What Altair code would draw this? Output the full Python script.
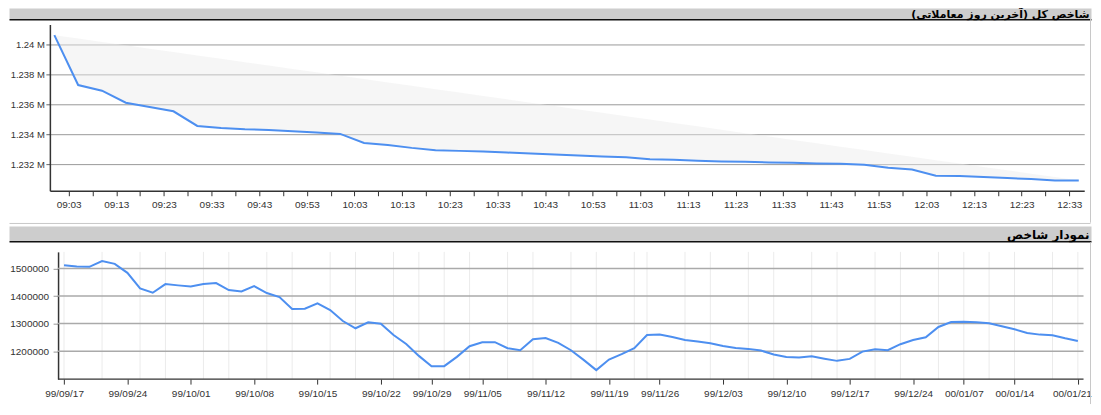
import altair as alt
import pandas as pd

# ---------------- data: intraday index (top panel) ----------------
intraday_times = [
    "09:00", "09:05", "09:10", "09:15", "09:20", "09:25", "09:30", "09:35", "09:40", "09:45",
    "09:50", "09:55", "10:00", "10:05", "10:10", "10:15", "10:20", "10:25", "10:30", "10:35",
    "10:40", "10:45", "10:50", "10:55", "11:00", "11:05", "11:10", "11:15", "11:20", "11:25",
    "11:30", "11:35", "11:40", "11:45", "11:50", "11:55", "12:00", "12:05", "12:10", "12:15",
    "12:20", "12:25", "12:30", "12:35",
]
intraday_values = [
    1240622, 1237287, 1236907, 1236107, 1235820, 1235533, 1234553, 1234420, 1234333, 1234287,
    1234200, 1234113, 1234022, 1233420, 1233287, 1233087, 1232933, 1232887, 1232842, 1232778,
    1232711, 1232644, 1232578, 1232511, 1232467, 1232333, 1232287, 1232222, 1232178, 1232156,
    1232111, 1232089, 1232044, 1232022, 1231956, 1231756, 1231644, 1231222, 1231200, 1231133,
    1231067, 1231000, 1230911, 1230911,
]
top_tick_labels = [
    "09:03", "09:13", "09:23", "09:33", "09:43", "09:53", "10:03", "10:13", "10:23", "10:33",
    "10:43", "10:53", "11:03", "11:13", "11:23", "11:33", "11:43", "11:53", "12:03", "12:13",
    "12:23", "12:33",
]
top_y_ticks = [1232000, 1234000, 1236000, 1238000, 1240000]

# ---------------- data: daily index (bottom panel) ----------------
index_values = [
    1511900, 1507200, 1505800, 1526400, 1516700, 1484100, 1427700, 1411800, 1443300, 1438600,
    1434900, 1443300, 1446900, 1421600, 1416800, 1436000, 1410700, 1396300, 1353000, 1354000,
    1373500, 1349300, 1309500, 1283100, 1304800, 1299800, 1258900, 1226400, 1183000, 1145800,
    1145800, 1179400, 1218100, 1232600, 1232600, 1210900, 1203600, 1243400, 1247900, 1230500,
    1203600, 1168600, 1131400, 1169700, 1189200, 1210900, 1258900, 1260100, 1251800, 1240800,
    1235000, 1228900, 1219200, 1212000, 1208400, 1202200, 1187800, 1179400, 1177000, 1181900,
    1173000, 1165000, 1172200, 1198600, 1207300, 1203600, 1225300, 1240800, 1250500, 1287900,
    1305900, 1307000, 1304800, 1301200, 1290400, 1279600, 1266200, 1260100, 1257900, 1247000,
    1237300,
]
index_tick_pos = [0, 5, 10, 15, 20, 25, 29, 33, 38, 43, 47, 52, 57, 62, 67, 71, 75, 80]
index_tick_labels = [
    "99/09/17", "99/09/24", "99/10/01", "99/10/08", "99/10/15", "99/10/22", "99/10/29",
    "99/11/05", "99/11/12", "99/11/19", "99/11/26", "99/12/03", "99/12/10", "99/12/17",
    "99/12/24", "00/01/07", "00/01/14", "00/01/21",
]
index_grid_pos = [0, 3, 6, 8, 11, 13, 16, 18, 21, 23, 26, 28, 30, 32, 35, 37, 40, 42, 45, 46,
                  49, 51, 54, 56, 59, 61, 64, 66, 69, 71, 73, 75, 78, 80]
bottom_y_ticks = [1200000, 1300000, 1400000, 1500000]

top_title = "شاخص کل (آخرین روز معاملاتی)"
bottom_title = "نمودار شاخص"

# ---------------- layout constants (page px) ----------------
X0 = 40.5                 # common origin offset from the page margin
ORIGIN = 8 + X0           # page x of both plot origins
RIGHT = 1093              # rightmost page x used
H1 = 15.3
TOP_H = 166.7
H2 = 250.7 - (8 + H1 + TOP_H)
BOT_H = 127.6
BOT_AXIS_X = 56.7

LINE_COLOR = "#4d8ff0"
BAR_COLOR = "#cdcdcd"
LABEL_FONT = "Liberation Sans, Arial, sans-serif"
TITLE_FONT = "DejaVu Sans, Tahoma, sans-serif"


def to_min(s):
    h, m = s.split(":")
    return int(h) * 60 + int(m)


# ---------------- top panel ----------------
top = pd.DataFrame({"time": intraday_times, "value": intraday_values})
top["minute"] = top["time"].map(to_min)
t0, t1 = top["minute"].iloc[0], top["minute"].iloc[-1]
v0, v1 = top["value"].iloc[0], top["value"].iloc[-1]
top["chord"] = v0 + (v1 - v0) * (top["minute"] - t0) / (t1 - t0)

ppm = 4.778
top_w = 1085.7 - ORIGIN
x_left = 543 - (67.3 - ORIGIN) / ppm
x_right = x_left + top_w / ppm
tick_label_min = [to_min(s) for s in top_tick_labels]
all_ticks = list(range(tick_label_min[0], tick_label_min[-1] + 1, 5))
lbl_expr_top = "{}[indexof({}, datum.value)] || ''".format(
    "[" + ",".join("'" + s + "'" for s in top_tick_labels) + "]",
    "[" + ",".join(str(v) for v in tick_label_min) + "]",
)

xs_top = alt.Scale(domain=[x_left, x_right], nice=False, zero=False)
ys_top = alt.Scale(domain=[1230222, 1241333], nice=False, zero=False)

x_axis_top = alt.Axis(values=all_ticks, labelExpr=lbl_expr_top, labelOverlap=False, labelFlush=False,
                      grid=False, tickSize=5, tickColor="#333", domainColor="#333", domainWidth=1.5,
                      labelFont=LABEL_FONT, labelFontSize=10, labelColor="#333", labelPadding=4)
y_axis_top = alt.Axis(values=top_y_ticks, labelExpr="format(datum.value/1000000, '.4~f') + ' M'",
                      grid=True, gridColor="#999", gridWidth=1, tickSize=4, tickColor="#666",
                      domainColor="#333", domainWidth=1.5, labelFont=LABEL_FONT, labelFontSize=9.5,
                      labelColor="#333", labelPadding=1.5)

base_top = alt.Chart(top)
area_top = base_top.mark_area(color="#ececec", opacity=0.45).encode(
    x=alt.X("minute:Q", scale=xs_top, axis=x_axis_top, title=None),
    y=alt.Y("chord:Q", scale=ys_top, axis=y_axis_top, title=None),
    y2="value:Q",
)
line_top = base_top.mark_line(color=LINE_COLOR, strokeWidth=2).encode(
    x=alt.X("minute:Q", scale=xs_top, axis=x_axis_top, title=None),
    y=alt.Y("value:Q", scale=ys_top, axis=y_axis_top, title=None),
)
border_top = alt.Chart(pd.DataFrame({"a": [0]})).mark_rule(color="#c8c8c8", strokeWidth=1).encode(
    x=alt.value(1092 - ORIGIN), y=alt.value(-7), y2=alt.value(TOP_H + 32)
)
top_chart = alt.layer(area_top, line_top, border_top).properties(width=top_w, height=TOP_H)

# ---------------- bottom panel ----------------
bot = pd.DataFrame({"pos": list(range(len(index_values))), "value": index_values})
grid_df = pd.DataFrame({"pos": index_grid_pos})
hgrid_df = pd.DataFrame({"value": bottom_y_ticks})
ppi = 12.7075
bot_w = 1085 - ORIGIN
b_left = -(62.7 - ORIGIN) / ppi
b_right = b_left + bot_w / ppi
xs_bot = alt.Scale(domain=[b_left, b_right], nice=False, zero=False)
ys_bot = alt.Scale(domain=[1098800, 1560000], nice=False, zero=False)
lbl_expr_bot = "{}[indexof({}, datum.value)] || ''".format(
    "[" + ",".join("'" + s + "'" for s in index_tick_labels) + "]",
    "[" + ",".join(str(v) for v in index_tick_pos) + "]",
)
last_pos = index_tick_pos[-1]
x_axis_bot = alt.Axis(values=index_tick_pos, labelExpr=lbl_expr_bot, labelOverlap=False, labelFlush=False,
                      grid=False, tickSize=5, tickColor="#333", domain=False,
                      labelFont=LABEL_FONT, labelFontSize=10, labelColor="#333", labelPadding=4,
                      labelOffset={"condition": {"test": "datum.value == %d" % last_pos, "value": -6},
                                   "value": 0})
y_axis_bot = alt.Axis(values=bottom_y_ticks, format="d", grid=False, offset=-(BOT_AXIS_X - ORIGIN),
                      tickSize=5, tickColor="#999", domainColor="#333", domainWidth=1.5,
                      labelFont=LABEL_FONT, labelFontSize=10, labelColor="#333", labelPadding=4.5)

X_BOT = alt.X("pos:Q", scale=xs_bot, axis=x_axis_bot, title=None)
Y_BOT = alt.Y("value:Q", scale=ys_bot, axis=y_axis_bot, title=None)

vgrid = alt.Chart(grid_df).mark_rule(color="#ebebeb", strokeWidth=1).encode(x=X_BOT)
hgrid = alt.Chart(hgrid_df).mark_rule(color="#aaa", strokeWidth=1.5).encode(
    y=Y_BOT, x=alt.value(BOT_AXIS_X - ORIGIN), x2=alt.value(bot_w),
)
line_bot = alt.Chart(bot).mark_line(color=LINE_COLOR, strokeWidth=2).encode(x=X_BOT, y=Y_BOT)
frame_bot = alt.Chart(pd.DataFrame({"a": [0]}))
xdomain_bot = frame_bot.mark_rule(color="#333", strokeWidth=1.5).encode(
    x=alt.value(BOT_AXIS_X - ORIGIN), x2=alt.value(bot_w), y=alt.value(BOT_H)
)
border_bot = frame_bot.mark_rule(color="#c8c8c8", strokeWidth=1).encode(
    x=alt.value(1092 - ORIGIN), y=alt.value(-9.5), y2=alt.value(BOT_H + 25)
)
bot_chart = alt.layer(vgrid, hgrid, line_bot, xdomain_bot, border_bot).properties(width=bot_w, height=BOT_H)


# ---------------- headers ----------------
def header(title, height, bar_top, bar_bottom, baseline, font_size, border_y=None):
    src = alt.Chart(pd.DataFrame({"t": [title]}))
    left = alt.value(-X0)
    right = alt.value(RIGHT - ORIGIN)
    layers = []
    if border_y is not None:
        layers.append(src.mark_rule(color="#c8c8c8", strokeWidth=1).encode(
            x=left, x2=alt.value(1092 - ORIGIN), y=alt.value(border_y)))
    layers.append(src.mark_rect(color=BAR_COLOR).encode(
        x=left, x2=right, y=alt.value(bar_top), y2=alt.value(bar_bottom)))
    layers.append(src.mark_rule(color="#111", strokeWidth=1.5).encode(
        x=left, x2=right, y=alt.value(bar_bottom + 0.75)))
    layers.append(src.mark_text(align="right", baseline="alphabetic", font=TITLE_FONT, fontWeight="bold",
                                fontSize=font_size, color="black").encode(
        text="t:N", x=alt.value(1091 - ORIGIN), y=alt.value(baseline)))
    return alt.layer(*layers).properties(width=top_w, height=height)


h1 = header(top_title, H1, 0, 10.6, 9.8, 11)
h2 = header(bottom_title, H2, H2 - 25.2, H2 - 10.7, H2 - 12.8, 12, border_y=H2 - 28.2)

chart = alt.vconcat(h1, top_chart, h2, bot_chart, spacing=0, bounds="flush").properties(
    padding=0
).configure_view(stroke=None)

chart.save("out.html", embed_options={"renderer": "svg", "actions": False})
